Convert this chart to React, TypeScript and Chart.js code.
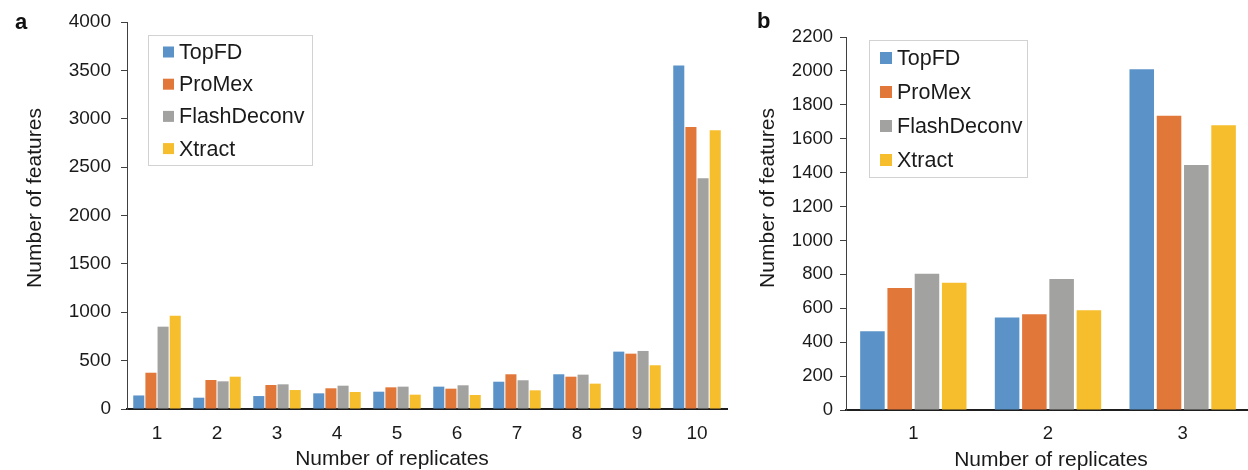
import React, { useEffect, useRef } from "react";
import { Chart, registerables } from "chart.js";

Chart.register(...registerables);

const FONT = '"Liberation Sans", Arial, Helvetica, sans-serif';
const TEXT = "#1a1a1a";

const seriesNames = ["TopFD", "ProMex", "FlashDeconv", "Xtract"];
const seriesColors = ["#5B93C8", "#E2773A", "#A2A2A0", "#F6BE2C"];

// Panel a
const replicatesA = ["1", "2", "3", "4", "5", "6", "7", "8", "9", "10"];
const topfdA = [140, 117, 134, 162, 179, 231, 282, 359, 593, 3550];
const promexA = [375, 300, 248, 214, 224, 210, 359, 334, 572, 2916];
const flashA = [851, 286, 255, 241, 231, 245, 297, 355, 600, 2385];
const xtractA = [965, 334, 196, 176, 148, 145, 193, 262, 452, 2882];
const yTicksA = { min: 0, max: 4000, step: 500 };

// Panel b
const replicatesB = ["1", "2", "3"];
const topfdB = [465, 545, 2010];
const promexB = [719, 565, 1735];
const flashB = [804, 772, 1445];
const xtractB = [751, 588, 1680];
const yTicksB = { min: 0, max: 2200, step: 200 };

const yTitle = "Number of features";
const xTitle = "Number of replicates";

const decorPlugin = {
  id: "decor",
  afterDraw(chart: any, _args: any, o: any) {
    const ctx = chart.ctx;
    ctx.save();
    // panel label
    ctx.fillStyle = "#111";
    ctx.font = `bold 22px ${FONT}`;
    ctx.textAlign = "left";
    ctx.textBaseline = "alphabetic";
    ctx.fillText(o.panel, o.panelX, o.panelY);
    // axis titles
    ctx.fillStyle = TEXT;
    ctx.font = `21px ${FONT}`;
    ctx.textAlign = "center";
    ctx.textBaseline = "middle";
    ctx.fillText(o.xTitle, o.xTitleX, o.xTitleY);
    ctx.save();
    ctx.translate(o.yTitleX, o.yTitleY);
    ctx.rotate(-Math.PI / 2);
    ctx.fillText(o.yTitle, 0, 0);
    ctx.restore();
    // legend
    const L = o.legend;
    ctx.strokeStyle = "#d2d2d2";
    ctx.lineWidth = 1;
    ctx.strokeRect(L.x + 0.5, L.y + 0.5, L.w, L.h);
    ctx.textAlign = "left";
    ctx.textBaseline = "middle";
    ctx.font = `21.5px ${FONT}`;
    chart.data.datasets.forEach((ds: any, i: number) => {
      const cy = L.firstY + i * L.rowH;
      ctx.fillStyle = ds.backgroundColor;
      ctx.fillRect(L.boxX, cy - L.box / 2, L.box, L.box);
      ctx.fillStyle = TEXT;
      ctx.fillText(ds.label, L.textX, cy + 1);
    });
    ctx.restore();
  },
};

function buildConfig(
  labels: string[],
  series: number[][],
  yr: { min: number; max: number; step: number },
  p: any
) {
  return {
    type: "bar" as const,
    data: {
      labels,
      datasets: series.map((d, i) => ({
        label: seriesNames[i],
        data: d,
        backgroundColor: seriesColors[i],
        borderWidth: 0,
        barPercentage: p.barPct,
        categoryPercentage: p.catPct,
      })),
    },
    options: {
      responsive: false,
      animation: false as const,
      devicePixelRatio: 1,
      layout: { padding: { top: p.top, right: p.right, left: 0, bottom: 0 } },
      plugins: {
        legend: { display: false },
        tooltip: { enabled: false },
        decor: p.decor,
      },
      scales: {
        x: {
          grid: { display: true, drawOnChartArea: false, drawTicks: false },
          border: { display: true, color: "#1e1e1e", width: 2 },
          ticks: { font: { family: FONT, size: p.tickSize }, color: TEXT, padding: p.xPad },
          afterFit: (s: any) => {
            s.height = p.xHeight;
          },
        },
        y: {
          min: yr.min,
          max: yr.max,
          ticks: {
            stepSize: yr.step,
            font: { family: FONT, size: p.tickSize },
            color: TEXT,
            padding: p.yPad,
            callback: (v: any) => String(v),
          },
          grid: { drawOnChartArea: false, drawTicks: true, tickLength: 6, color: "#404040", lineWidth: 1 },
          border: { display: true, color: "#404040", width: 1 },
          afterFit: (s: any) => {
            s.width = p.yWidth;
          },
        },
      },
    },
    plugins: [decorPlugin],
  };
}

function BarPanel({ config, width, height }: { config: any; width: number; height: number }) {
  const ref = useRef<HTMLCanvasElement | null>(null);
  useEffect(() => {
    if (!ref.current) return;
    const chart = new Chart(ref.current, config);
    return () => chart.destroy();
  }, [config]);
  return <canvas ref={ref} width={width} height={height} style={{ width, height, display: "block" }} />;
}

const configA = buildConfig(replicatesA, [topfdA, promexA, flashA, xtractA], yTicksA, {
  barPct: 0.91,
  catPct: 0.81,
  top: 22,
  right: 3,
  tickSize: 19,
  xPad: 13,
  yPad: 10,
  xHeight: 61,
  yWidth: 127,
  decor: {
    panel: "a",
    panelX: 15,
    panelY: 29,
    yTitle,
    xTitle,
    yTitleX: 35,
    yTitleY: 198,
    xTitleX: 392,
    xTitleY: 459,
    legend: { x: 148, y: 35, w: 164, h: 130, boxX: 163, box: 11, textX: 179, firstY: 52, rowH: 32.2 },
  },
});

const configB = buildConfig(replicatesB, [topfdB, promexB, flashB, xtractB], yTicksB, {
  barPct: 0.9,
  catPct: 0.81,
  top: 37,
  right: 0,
  tickSize: 18.5,
  xPad: 13,
  yPad: 7,
  xHeight: 60,
  yWidth: 116,
  decor: {
    panel: "b",
    panelX: 27,
    panelY: 28,
    yTitle,
    xTitle,
    yTitleX: 38,
    yTitleY: 198,
    xTitleX: 321,
    xTitleY: 460,
    legend: { x: 139, y: 40, w: 158, h: 137, boxX: 150, box: 12, textX: 167, firstY: 58, rowH: 34 },
  },
});

export default function App() {
  return (
    <div
      style={{
        position: "fixed",
        left: 0,
        top: 0,
        width: 1248,
        height: 470,
        overflow: "hidden",
        background: "#ffffff",
      }}
    >
      <div style={{ position: "absolute", left: 0, top: 0 }}>
        <BarPanel config={configA} width={730} height={470} />
      </div>
      <div style={{ position: "absolute", left: 730, top: 0 }}>
        <BarPanel config={configB} width={520} height={470} />
      </div>
    </div>
  );
}
